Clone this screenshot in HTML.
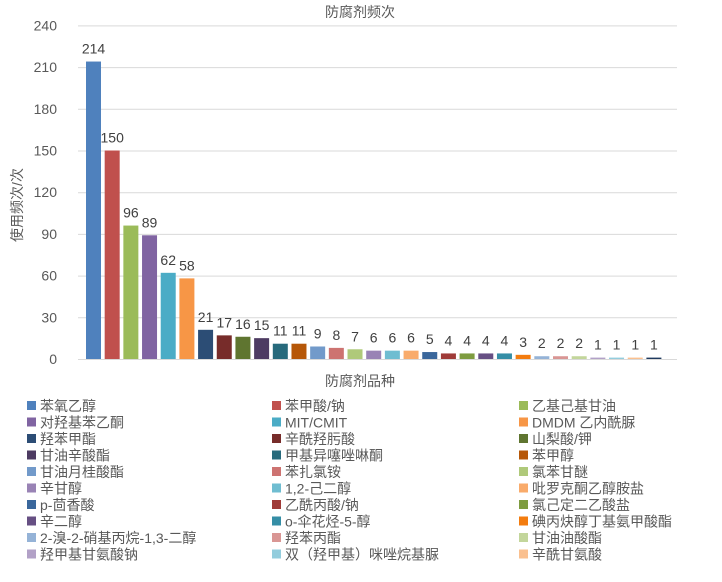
<!DOCTYPE html><html><head><meta charset="utf-8"><style>
body{margin:0;background:#fff;}
svg text{font-family:"Liberation Sans","Noto Sans CJK SC",sans-serif;}
</style></head><body>
<svg width="722" height="577" xmlns="http://www.w3.org/2000/svg">
<rect width="722" height="577" fill="#fff"/>
<text x="360" y="17" font-size="14" fill="#595959" text-anchor="middle">防腐剂频次</text>
<g id="grid" stroke="#d9d9d9" stroke-width="1"></g>
<g id="ylab" font-size="14" fill="#595959" text-anchor="end"></g>
<text transform="translate(22,205) rotate(-90)" font-size="14" fill="#595959" text-anchor="middle">使用频次/次</text>
<g id="bars"></g>
<text x="360" y="386" font-size="14" fill="#595959" text-anchor="middle">防腐剂品种</text>
<g id="leg" font-size="14" fill="#595959"></g>
</svg>
<script>
var ns="http://www.w3.org/2000/svg";
function el(t,a,p,txt){var e=document.createElementNS(ns,t);for(var k in a)e.setAttribute(k,a[k]);if(txt!=null)e.textContent=txt;document.getElementById(p).appendChild(e);}
var y0=359,sc=333.6/240;
for(var v=0;v<=240;v+=30){var y=y0-v*sc;el('line',{x1:78,x2:677,y1:y+0.5,y2:y+0.5},'grid');el('text',{x:57,y:y+5},'ylab',v);}
var vals=[214,150,96,89,62,58,21,17,16,15,11,11,9,8,7,6,6,6,5,4,4,4,4,3,2,2,2,1,1,1,1];
var cols=["#4F81BD","#C0504D","#9BBB59","#8064A2","#4BACC6","#F79646","#2C4D75","#772C2A","#5F7530","#4D3B62","#276A7C","#B65708","#729ACA","#CD7371","#AFC97A","#9983B5","#6FBDD1","#F9AB6B","#3A679C","#9F3B38","#7E9C40","#664F83","#358EA6","#F37C0F","#95B3D7","#D99694","#C3D69B","#B2A1C7","#93CDDD","#FAC08F","#1F3A5E"];
for(var i=0;i<31;i++){var cx=93.5+i*18.68,h=vals[i]*sc;el('rect',{x:cx-7.5,y:y0-h,width:15,height:h,fill:cols[i]},'bars');
el('text',{x:cx,y:y0-h-8,'font-size':14,fill:'#404040','text-anchor':'middle','font-family':'Liberation Serif,serif'},'bars',vals[i]);}
var names=["苯氧乙醇","苯甲酸/钠","乙基己基甘油","对羟基苯乙酮","MIT/CMIT","DMDM 乙内酰脲","羟苯甲酯","辛酰羟肟酸","山梨酸/钾","甘油辛酸酯","甲基异噻唑啉酮","苯甲醇","甘油月桂酸酯","苯扎氯铵","氯苯甘醚","辛甘醇","1,2-己二醇","吡罗克酮乙醇胺盐","p-茴香酸","乙酰丙酸/钠","氯己定二乙酸盐","辛二醇","o-伞花烃-5-醇","碘丙炔醇丁基氨甲酸酯","2-溴-2-硝基丙烷-1,3-二醇","羟苯丙酯","甘油油酸酯","羟甲基甘氨酸钠","双（羟甲基）咪唑烷基脲","辛酰甘氨酸"];
var cx3=[27,272,519];
for(var i=0;i<30;i++){var c=i%3,r=Math.floor(i/3),y=406+r*16.5;
el('rect',{x:cx3[c],y:y-5,width:9,height:9,fill:cols[i]},'leg');
el('text',{x:cx3[c]+13,y:y+5},'leg',names[i]);}
</script>
</body></html>
